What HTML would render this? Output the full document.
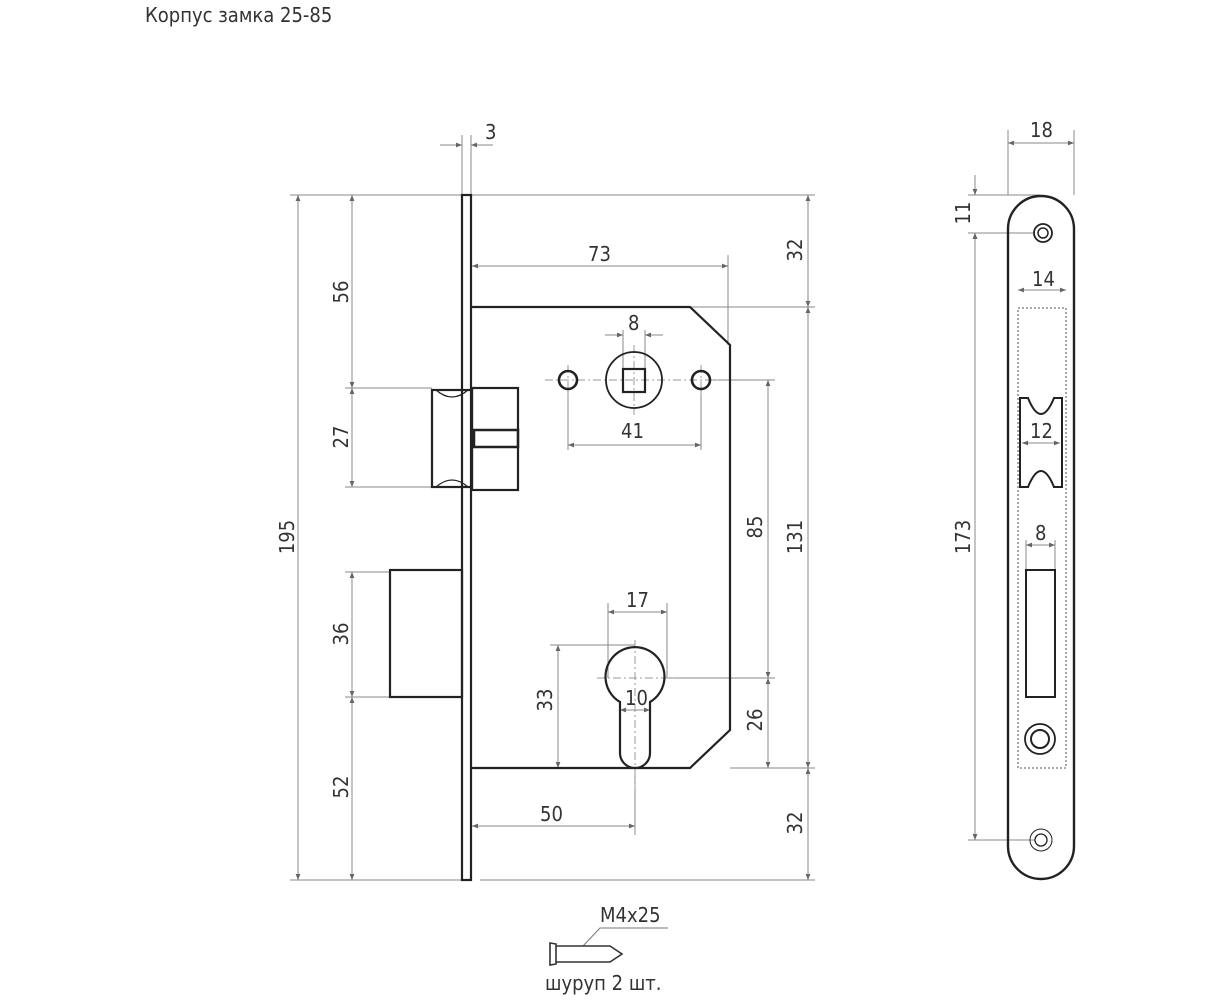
<!DOCTYPE html>
<html><head><meta charset="utf-8"><style>
html,body{margin:0;padding:0;background:#fff;}
svg{display:block;}
text{font-family:"DejaVu Sans Condensed","Liberation Sans",sans-serif;fill:#333;font-size:20px;}
</style></head><body>
<svg width="1223" height="1000" viewBox="0 0 1223 1000" xmlns="http://www.w3.org/2000/svg">
<defs>
<marker id="a" viewBox="0 0 10 10" refX="10" refY="5" markerWidth="10" markerHeight="6" orient="auto-start-reverse" markerUnits="userSpaceOnUse"><path d="M0,1 L10,5 L0,9 z" fill="#666"/></marker>
</defs>
<text x="145" y="22" font-size="18">Корпус замка 25-85</text>

<!-- extension lines -->
<g stroke="#888" stroke-width="1" fill="none">
<line x1="290" y1="195" x2="462" y2="195"/><line x1="471" y1="195" x2="815" y2="195"/>
<line x1="290" y1="880" x2="462" y2="880"/><line x1="480" y1="880" x2="815" y2="880"/>
<line x1="462" y1="135" x2="462" y2="195"/><line x1="471" y1="135" x2="471" y2="195"/>
<line x1="345" y1="388" x2="432" y2="388"/><line x1="345" y1="487" x2="432" y2="487"/>
<line x1="345" y1="572" x2="390" y2="572"/><line x1="345" y1="697" x2="390" y2="697"/>
<line x1="690" y1="307" x2="815" y2="307"/><line x1="730" y1="768" x2="815" y2="768"/>
<line x1="728" y1="255" x2="728" y2="345"/>
<line x1="710" y1="380" x2="775" y2="380"/><line x1="667" y1="678" x2="775" y2="678"/>
<line x1="568" y1="390" x2="568" y2="450"/><line x1="701" y1="390" x2="701" y2="450"/>
<line x1="623" y1="330" x2="623" y2="369"/><line x1="645" y1="330" x2="645" y2="369"/>
<line x1="608" y1="603" x2="608" y2="678"/><line x1="667" y1="603" x2="667" y2="678"/>
<line x1="550" y1="645" x2="635" y2="645"/><line x1="550" y1="768" x2="620" y2="768"/>
<line x1="635" y1="768" x2="635" y2="835"/>
<!-- dims -->
<line x1="298" y1="195" x2="298" y2="880" marker-start="url(#a)" marker-end="url(#a)"/>
<line x1="352" y1="195" x2="352" y2="388" marker-start="url(#a)" marker-end="url(#a)"/>
<line x1="352" y1="388" x2="352" y2="487" marker-start="url(#a)" marker-end="url(#a)"/>
<line x1="352" y1="572" x2="352" y2="697" marker-start="url(#a)" marker-end="url(#a)"/>
<line x1="352" y1="697" x2="352" y2="880" marker-start="url(#a)" marker-end="url(#a)"/>
<line x1="808" y1="195" x2="808" y2="307" marker-start="url(#a)" marker-end="url(#a)"/>
<line x1="808" y1="307" x2="808" y2="768" marker-start="url(#a)" marker-end="url(#a)"/>
<line x1="808" y1="768" x2="808" y2="880" marker-start="url(#a)" marker-end="url(#a)"/>
<line x1="768" y1="380" x2="768" y2="678" marker-start="url(#a)" marker-end="url(#a)"/>
<line x1="768" y1="678" x2="768" y2="768" marker-start="url(#a)" marker-end="url(#a)"/>
<line x1="472" y1="266" x2="728" y2="266" marker-start="url(#a)" marker-end="url(#a)"/>
<line x1="440" y1="145" x2="462" y2="145" marker-end="url(#a)"/>
<line x1="493" y1="145" x2="471" y2="145" marker-end="url(#a)"/>
<line x1="568" y1="445" x2="701" y2="445" marker-start="url(#a)" marker-end="url(#a)"/>
<line x1="605" y1="335" x2="623" y2="335" marker-end="url(#a)"/>
<line x1="663" y1="335" x2="645" y2="335" marker-end="url(#a)"/>
<line x1="608" y1="612" x2="667" y2="612" marker-start="url(#a)" marker-end="url(#a)"/>
<line x1="558" y1="645" x2="558" y2="768" marker-start="url(#a)" marker-end="url(#a)"/>
<line x1="620" y1="710" x2="650" y2="710" marker-start="url(#a)" marker-end="url(#a)"/>
<line x1="472" y1="826" x2="635" y2="826" marker-start="url(#a)" marker-end="url(#a)"/>
</g>
<!-- center lines -->
<g stroke="#999" stroke-width="1" stroke-dasharray="8,3,2,3" fill="none">
<line x1="545" y1="380" x2="720" y2="380"/><line x1="634" y1="345" x2="634" y2="415"/>
<line x1="568" y1="365" x2="568" y2="395"/><line x1="701" y1="365" x2="701" y2="395"/>
<line x1="597" y1="678" x2="675" y2="678"/><line x1="635" y1="640" x2="635" y2="790"/>
</g>
<!-- lock body -->
<g stroke="#222" stroke-width="2.2" fill="none">
<rect x="462" y="195" width="9" height="685"/>
<path d="M471,307 L690,307 L730,345 L730,730 L690,768 L471,768"/>
<rect x="432" y="390" width="40" height="97"/>
<path d="M436,390 Q452,404 468,390 M436,487 Q452,473 468,487" stroke-width="1.3"/>
<rect x="472" y="388" width="46" height="102"/>
<rect x="474" y="430" width="44" height="17" stroke-width="2.5"/>
<rect x="390" y="570" width="72" height="127"/>
<circle cx="634" cy="380" r="28" stroke-width="1.8"/>
<rect x="623" y="369" width="22" height="23"/>
<circle cx="568" cy="380" r="9" stroke-width="2.6"/>
<circle cx="701" cy="380" r="9" stroke-width="2.6"/>
<path d="M620,702 A29.5,29.5 0 1 1 650,702 L650,753 A15,15 0 0 1 620,753 Z"/>
</g>
<text x="588" y="261">73</text>
<text x="485" y="139">3</text>
<text x="628" y="330">8</text>
<text x="621" y="438">41</text>
<text x="626" y="607">17</text>
<text x="625" y="705">10</text>
<text x="540" y="821">50</text>
<text transform="translate(294,537) rotate(-90)" text-anchor="middle">195</text>
<text transform="translate(348,292) rotate(-90)" text-anchor="middle">56</text>
<text transform="translate(348,437) rotate(-90)" text-anchor="middle">27</text>
<text transform="translate(348,634) rotate(-90)" text-anchor="middle">36</text>
<text transform="translate(348,787) rotate(-90)" text-anchor="middle">52</text>
<text transform="translate(802,250) rotate(-90)" text-anchor="middle">32</text>
<text transform="translate(802,537) rotate(-90)" text-anchor="middle">131</text>
<text transform="translate(802,823) rotate(-90)" text-anchor="middle">32</text>
<text transform="translate(762,527) rotate(-90)" text-anchor="middle">85</text>
<text transform="translate(762,720) rotate(-90)" text-anchor="middle">26</text>
<text transform="translate(552,700) rotate(-90)" text-anchor="middle">33</text>

<!-- screw -->
<text x="600" y="922" font-size="18">M4x25</text>
<path d="M583,946 L600,928 L668,928" stroke="#777" fill="none" stroke-width="1"/>
<g stroke="#333" stroke-width="1.6" fill="none">
<path d="M550,943 L556,944 L556,964 L550,965 Z"/>
<path d="M556,946 L610,946 L622,954 L610,962 L556,962"/>
</g>
<text x="545" y="990" font-size="18">шуруп 2 шт.</text>

<!-- side view -->
<g stroke="#888" stroke-width="1" fill="none">
<line x1="1008" y1="130" x2="1008" y2="195"/><line x1="1074" y1="130" x2="1074" y2="195"/>
<line x1="968" y1="195" x2="1040" y2="195"/><line x1="968" y1="233" x2="1035" y2="233"/>
<line x1="968" y1="840" x2="1035" y2="840"/>
<line x1="1008" y1="143" x2="1074" y2="143" marker-start="url(#a)" marker-end="url(#a)"/>
<line x1="975" y1="175" x2="975" y2="195" marker-end="url(#a)"/>
<line x1="975" y1="253" x2="975" y2="233" marker-end="url(#a)"/>
<line x1="975" y1="233" x2="975" y2="840" marker-start="url(#a)" marker-end="url(#a)"/>
<line x1="1018" y1="290" x2="1066" y2="290" marker-start="url(#a)" marker-end="url(#a)"/>
<line x1="1022" y1="443" x2="1060" y2="443" marker-start="url(#a)" marker-end="url(#a)"/>
<line x1="1026" y1="545" x2="1055" y2="545" marker-start="url(#a)" marker-end="url(#a)"/>
<line x1="1026" y1="540" x2="1026" y2="570"/><line x1="1055" y1="540" x2="1055" y2="570"/>
</g>
<g stroke="#222" stroke-width="2.4" fill="none">
<path d="M1008,229 A33,33 0 0 1 1074,229 L1074,846 A33,33 0 0 1 1008,846 Z"/>
<rect x="1026" y="570" width="29" height="127" stroke-width="2"/>
<path d="M1020,398 L1028,398 Q1041,430 1054,398 L1062,398 L1062,487 L1054,487 Q1041,455 1028,487 L1020,487 Z" stroke-width="2"/>
<circle cx="1043" cy="233" r="9" stroke-width="1.8"/><circle cx="1043" cy="233" r="5" stroke-width="1.5"/>
<circle cx="1040" cy="739" r="15" stroke-width="1.8"/><circle cx="1040" cy="739" r="9" stroke-width="2"/>
<circle cx="1041" cy="840" r="11" stroke-width="1"/><circle cx="1041" cy="840" r="6" stroke-width="1.3"/>
</g>
<rect x="1018" y="308" width="48" height="460" stroke="#777" stroke-width="1.3" stroke-dasharray="2,2" fill="none"/>
<text x="1030" y="137">18</text>
<text x="1032" y="286" font-size="18">14</text>
<text x="1030" y="438" font-size="18">12</text>
<text x="1035" y="540" font-size="18">8</text>
<text transform="translate(970,213) rotate(-90)" text-anchor="middle" font-size="18">11</text>
<text transform="translate(970,537) rotate(-90)" text-anchor="middle">173</text>
</svg>
</body></html>
